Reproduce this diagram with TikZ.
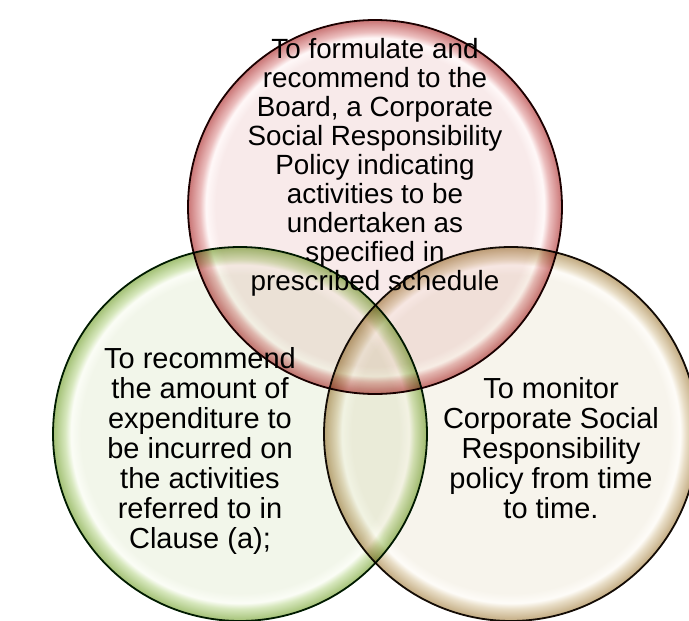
\documentclass[tikz,border=0pt]{standalone}
\usepackage{fontspec}
\setmainfont{Liberation Sans}
\definecolor{redin}{HTML}{F8EAEA}
\definecolor{redhi}{HTML}{FFF8F8}
\definecolor{redmid}{HTML}{EBBDBD}
\definecolor{redrim}{HTML}{C97474}
\definecolor{greenin}{HTML}{F2F6EA}
\definecolor{greenhi}{HTML}{FBFDF6}
\definecolor{greenmid}{HTML}{D6E7BC}
\definecolor{greenrim}{HTML}{A2C074}
\definecolor{tanin}{HTML}{F7F4EC}
\definecolor{tanhi}{HTML}{FEFCF8}
\definecolor{tanmid}{HTML}{E8DDC6}
\definecolor{tanrim}{HTML}{C2AA80}
\pgfdeclareradialshading[redin,redhi,redmid,redrim]{redbubble}{\pgfpoint{0bp}{0bp}}{color(0bp)=(redin); color(21.3bp)=(redin); color(22.6bp)=(redhi); color(23.4bp)=(redmid); color(25bp)=(redrim); color(50bp)=(redrim)}
\pgfdeclareradialshading[greenin,greenhi,greenmid,greenrim]{greenbubble}{\pgfpoint{0bp}{0bp}}{color(0bp)=(greenin); color(21.3bp)=(greenin); color(22.6bp)=(greenhi); color(23.4bp)=(greenmid); color(25bp)=(greenrim); color(50bp)=(greenrim)}
\pgfdeclareradialshading[tanin,tanhi,tanmid,tanrim]{tanbubble}{\pgfpoint{0bp}{0bp}}{color(0bp)=(tanin); color(21.3bp)=(tanin); color(22.6bp)=(tanhi); color(23.4bp)=(tanmid); color(25bp)=(tanrim); color(50bp)=(tanrim)}
\tikzset{
  bubble/.style={circle, inner sep=0pt, minimum size=374pt, line width=1.8pt},
  toptext/.style={anchor=north, align=center, inner sep=0pt, font=\fontsize{27.8}{29}\selectfont},
  sidetext/.style={anchor=north, align=center, inner sep=0pt, font=\fontsize{29}{30}\selectfont}
}
\begin{document}
\begin{tikzpicture}[x=1pt,y=-1pt]
\useasboundingbox (0,0) rectangle (689,621);
\clip (0,0) rectangle (689,621);
\fill[white] (0,0) rectangle (689,621);
\begin{scope}[blend mode=multiply]
\node[bubble, shading=redbubble, draw=black!88!red] (ctop) at (375,207) {};
\node[bubble, shading=greenbubble, draw=black!88!green] (cleft) at (240,434) {};
\node[bubble, shading=tanbubble, draw=black!88!brown] (cright) at (511,434) {};
\end{scope}
\node[toptext] (ttop) at (375,38.5) {To formulate and\\recommend to the\\Board, a Corporate\\Social Responsibility\\Policy indicating\\activities to be\\undertaken as\\specified in\\prescribed schedule};
\node[sidetext] (tleft) at (200,347.5) {To recommend\\the amount of\\expenditure to\\be incurred on\\the activities\\referred to in\\Clause (a);};
\node[sidetext] (tright) at (551,377.5) {To monitor\\Corporate Social\\Responsibility\\policy from time\\to time.};
\end{tikzpicture}
\end{document}
